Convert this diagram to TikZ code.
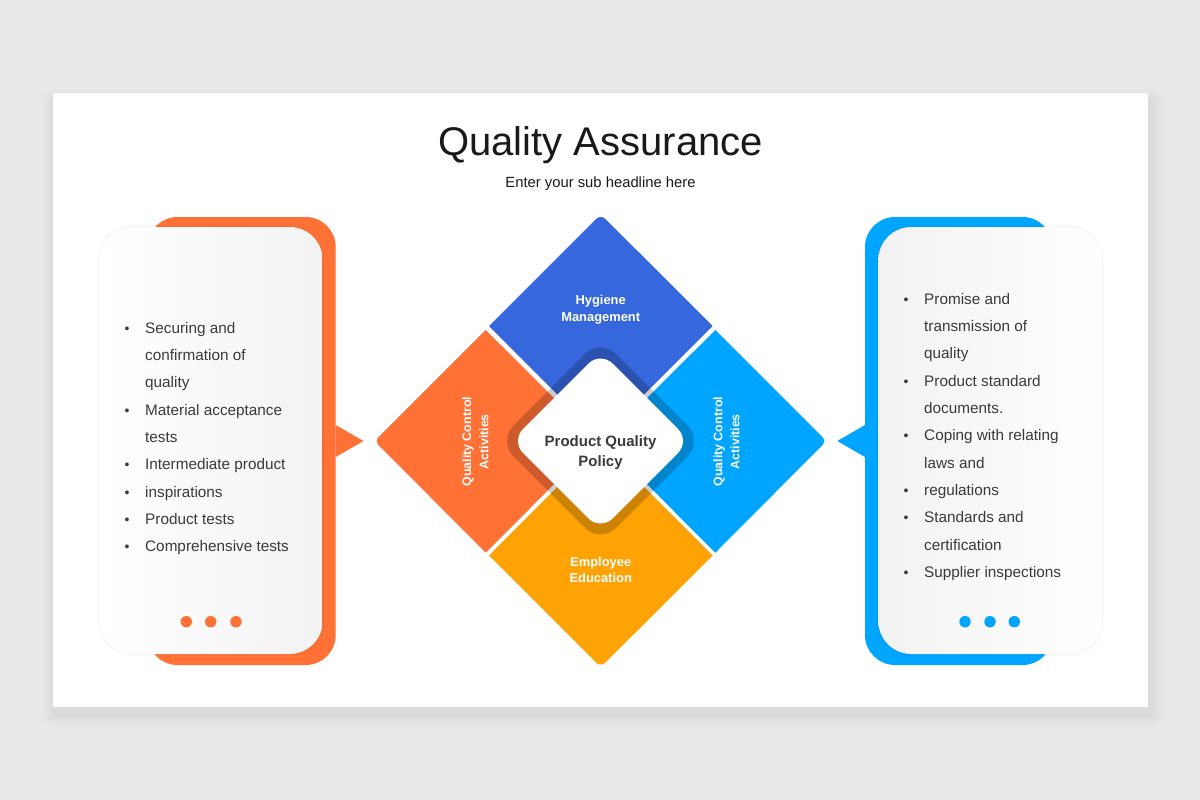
\documentclass[tikz,border=0pt]{standalone}
\usepackage{fontspec}
\setmainfont{Liberation Sans}
\definecolor{pagebg}{HTML}{E9E7E8}
\definecolor{cOrange}{HTML}{FF7135}
\definecolor{cBlue}{HTML}{3767DD}
\definecolor{cCyan}{HTML}{00A5FF}
\definecolor{cAmber}{HTML}{FFA305}
\definecolor{cText}{HTML}{3A3A3A}
\definecolor{cCard}{HTML}{F2F2F2}
\definecolor{cCardMid}{HTML}{FBFBFB}
\tikzset{
  listtext/.style={anchor=base west,inner sep=0pt,text=cText,font=\fontsize{15.3}{18}\selectfont},
  bullettext/.style={anchor=base,inner sep=0pt,text=cText,font=\fontsize{14}{18}\selectfont},
  tilelabel/.style={inner sep=0pt,text=white,font=\bfseries\fontsize{12.9}{16}\selectfont,anchor=base},
  sidelabel/.style={inner sep=0pt,text=white,font=\bfseries\fontsize{12.4}{16}\selectfont,anchor=base,rotate=90},
  centerlabel/.style={inner sep=0pt,text=cText,font=\bfseries\fontsize{15}{18}\selectfont,anchor=base},
  dotmark/.style={circle,inner sep=0pt,minimum size=11.4pt},
}
\begin{document}
\begin{tikzpicture}[x=1pt,y=-1pt]
\useasboundingbox (0,0) rectangle (1200,800);
\fill[pagebg] (0,0) rectangle (1200,800);
\foreach \d in {1,...,14}{
  \fill[black,opacity=0.004,rounded corners=\d] (53-\d+2,93-\d+9) rectangle (1148+\d+2,707+\d+7);
}
\fill[white] (53,93) rectangle (1148,707);

\node[inner sep=0pt,anchor=base,font=\fontsize{40}{44}\selectfont,text=black!90] (title) at (600.5,155) {Quality Assurance};
\node[inner sep=0pt,anchor=base,font=\fontsize{14.8}{18}\selectfont,text=black!90] (sub) at (600.5,187.5) {Enter your sub headline here};

% left panel
\fill[cOrange] (335.7,425) -- (363.5,441) -- (335.7,457) -- cycle;
\fill[cOrange,rounded corners=30] (147.5,217) rectangle (335.7,665);
\foreach \d/\o in {2/0.015,1/0.025}{\fill[black,opacity=\o,rounded corners=33+\d] (99.3-\d,227-\d) rectangle (322.7+\d,654+\d);}
\shade[left color=white,middle color=cCardMid,right color=cCard,rounded corners=33] (99.3,227) rectangle (322.7,654);

% right panel
\fill[cCyan] (865,425) -- (837.3,441) -- (865,457) -- cycle;
\fill[cCyan,rounded corners=30] (865,217) rectangle (1052.6,665);
\foreach \d/\o in {2/0.015,1/0.025}{\fill[black,opacity=\o,rounded corners=33+\d] (878.3-\d,227-\d) rectangle (1102+\d,654+\d);}
\shade[left color=cCard,middle color=cCardMid,right color=white,rounded corners=33] (878.3,227) rectangle (1102,654);

% dots
\node[dotmark,fill=cOrange] (ld1) at (186.3,621.7) {};
\node[dotmark,fill=cOrange] (ld2) at (210.7,621.7) {};
\node[dotmark,fill=cOrange] (ld3) at (236,621.7) {};
\node[dotmark,fill=cCyan] (rd1) at (965,621.7) {};
\node[dotmark,fill=cCyan] (rd2) at (990,621.7) {};
\node[dotmark,fill=cCyan] (rd3) at (1014.3,621.7) {};

% diamond tiles
\fill[cBlue] (489,326) [rounded corners=6.5] -- (600.7,214.3) [sharp corners] -- (712.7,326) -- (600.7,438) -- cycle;
\fill[cOrange] (485.7,330) -- (597,441) -- (485.7,552.7) [rounded corners=5] -- (374.5,441) [sharp corners] -- cycle;
\fill[cCyan] (715.3,330) -- (604,441) -- (715.3,552.7) [rounded corners=5] -- (826.5,441) [sharp corners] -- cycle;
\fill[cAmber] (489,555.5) [rounded corners=6.5] -- (600.7,667.2) [sharp corners] -- (712.7,555.5) -- (600.7,443.5) -- cycle;

% centre band and face
\fill[black,opacity=0.2,rounded corners=22] (600.5,338.5) -- (703,441) -- (600.5,543.5) -- (498,441) -- cycle;
\fill[white,rounded corners=17] (600.5,351.5) -- (690,441) -- (600.5,530.5) -- (511,441) -- cycle;

% labels
\node[centerlabel] (c1) at (600.5,446.7) {Product Quality};
\node[centerlabel] (c2) at (600.5,466) {Policy};
\node[tilelabel] (h1) at (600.7,304.7) {Hygiene};
\node[tilelabel] (h2) at (600.7,321.3) {Management};
\node[tilelabel] (e1) at (600.7,566) {Employee};
\node[tilelabel] (e2) at (600.7,582.7) {Education};
\node[sidelabel] (q1) at (471,441.7) {Quality Control};
\node[sidelabel] (q2) at (488.3,441.7) {Activities};
\node[sidelabel] (q3) at (722.3,441.7) {Quality Control};
\node[sidelabel] (q4) at (739.3,441.7) {Activities};

% left list
\node[bullettext] (lb1) at (127,333.3) {•};
\node[listtext] (l1) at (145,333.3) {Securing and};
\node[listtext] (l2) at (145,360.6) {confirmation of};
\node[listtext] (l3) at (145,387.9) {quality};
\node[bullettext] (lb2) at (127,415.2) {•};
\node[listtext] (l4) at (145,415.2) {Material acceptance};
\node[listtext] (l5) at (145,442.5) {tests};
\node[bullettext] (lb3) at (127,469.8) {•};
\node[listtext] (l6) at (145,469.8) {Intermediate product};
\node[bullettext] (lb4) at (127,497.1) {•};
\node[listtext] (l7) at (145,497.1) {inspirations};
\node[bullettext] (lb5) at (127,524.4) {•};
\node[listtext] (l8) at (145,524.4) {Product tests};
\node[bullettext] (lb6) at (127,551.7) {•};
\node[listtext] (l9) at (145,551.7) {Comprehensive tests};

% right list
\node[bullettext] (rb1) at (906,304.3) {•};
\node[listtext] (r1) at (924,304.3) {Promise and};
\node[listtext] (r2) at (924,331.6) {transmission of};
\node[listtext] (r3) at (924,358.9) {quality};
\node[bullettext] (rb2) at (906,386.2) {•};
\node[listtext] (r4) at (924,386.2) {Product standard};
\node[listtext] (r5) at (924,413.5) {documents.};
\node[bullettext] (rb3) at (906,440.8) {•};
\node[listtext] (r6) at (924,440.8) {Coping with relating};
\node[listtext] (r7) at (924,468.1) {laws and};
\node[bullettext] (rb4) at (906,495.4) {•};
\node[listtext] (r8) at (924,495.4) {regulations};
\node[bullettext] (rb5) at (906,522.7) {•};
\node[listtext] (r9) at (924,522.7) {Standards and};
\node[listtext] (r10) at (924,550) {certification};
\node[bullettext] (rb6) at (906,577.3) {•};
\node[listtext] (r11) at (924,577.3) {Supplier inspections};
\end{tikzpicture}
\end{document}
